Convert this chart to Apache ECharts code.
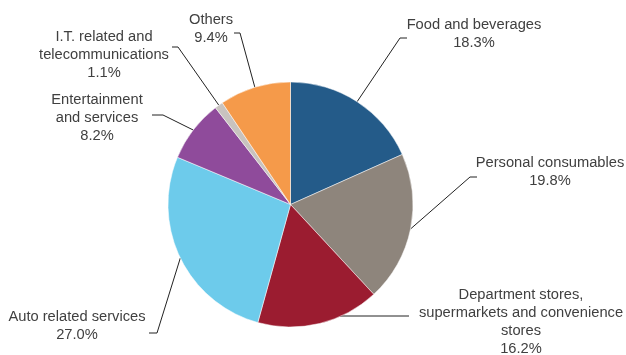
<!DOCTYPE html>
<html>
<head>
<meta charset="utf-8">
<script src="https://cdn.jsdelivr.net/npm/echarts@6/dist/echarts.min.js"></script>
<style>
  html, body { margin: 0; padding: 0; background: #fff; }
  #chart { width: 626px; height: 355px; }
</style>
</head>
<body>
<div id="chart"></div>
<script>
// Retail spending by sector, share of total (%)
const categories = [
  'Food and beverages',
  'Personal consumables',
  'Department stores,\nsupermarkets and convenience\nstores',
  'Auto related services',
  'Entertainment\nand services',
  'I.T. related and\ntelecommunications',
  'Others'
];
const shares = [18.3, 19.8, 16.2, 27.0, 8.2, 1.1, 9.4];
const colors = ['#245B89', '#8E857C', '#9B1C30', '#6DCBEB', '#8F4B9B', '#C8C3BF', '#F59A4A'];

// Pie geometry
const CX = 290.5, CY = 204.5, R = 122.5;

// Label placement: text centre, elbow and tail of each leader line,
// and optionally a fixed height where the line leaves the rim
const labelPlaces = [
  { tx: 474, ty: 34,  elbow: [400, 38],  tail: [407, 38] },
  { tx: 550, ty: 172, elbow: [470, 177], tail: [477, 177] },
  { tx: 521, ty: 322, elbow: [375, 316], tail: [409, 316], rimY: 316 },
  { tx: 77,  ty: 326, elbow: [157, 333], tail: [149, 333] },
  { tx: 97,  ty: 118, elbow: [163, 115], tail: [152, 115] },
  { tx: 104, ty: 55,  elbow: [178, 47],  tail: [172, 47] },
  { tx: 211, ty: 29,  elbow: [240, 33],  tail: [234, 33] }
];

const total = shares.reduce((a, b) => a + b, 0);
function rimPoint(i) {
  const p = labelPlaces[i];
  if (p.rimY !== undefined) {
    const dy = p.rimY - CY;
    return [CX + Math.sqrt(R * R - dy * dy) - 2, p.rimY];
  }
  let before = 0;
  for (let k = 0; k < i; k++) before += shares[k];
  const frac = (before + shares[i] / 2) / total;
  const a = frac * Math.PI * 2;
  return [CX + R * Math.sin(a), CY - R * Math.cos(a)];
}

const chart = echarts.init(document.getElementById('chart'), null, { renderer: 'canvas' });
chart.setOption({
  animation: false,
  backgroundColor: '#ffffff',
  series: [{
    type: 'pie',
    center: [CX, CY],
    radius: R,
    startAngle: 90,
    clockwise: true,
    avoidLabelOverlap: false,
    itemStyle: { borderColor: '#ffffff', borderWidth: 0.5 },
    label: {
      show: true,
      position: 'outside',
      formatter: p => p.name + '\n' + p.value.toFixed(1) + '%',
      fontFamily: 'Liberation Sans, Arial, Helvetica, sans-serif',
      fontSize: 14.7,
      lineHeight: 18,
      color: '#404040',
      align: 'center'
    },
    labelLine: {
      show: true,
      lineStyle: { color: '#222222', width: 1 }
    },
    labelLayout: function (params) {
      const i = params.dataIndex;
      const p = labelPlaces[i];
      return {
        x: p.tx,
        y: p.ty,
        align: 'center',
        verticalAlign: 'middle',
        labelLinePoints: [rimPoint(i), p.elbow, p.tail]
      };
    },
    data: categories.map((name, i) => ({
      name: name,
      value: shares[i],
      itemStyle: { color: colors[i] }
    }))
  }]
});
</script>
</body>
</html>
